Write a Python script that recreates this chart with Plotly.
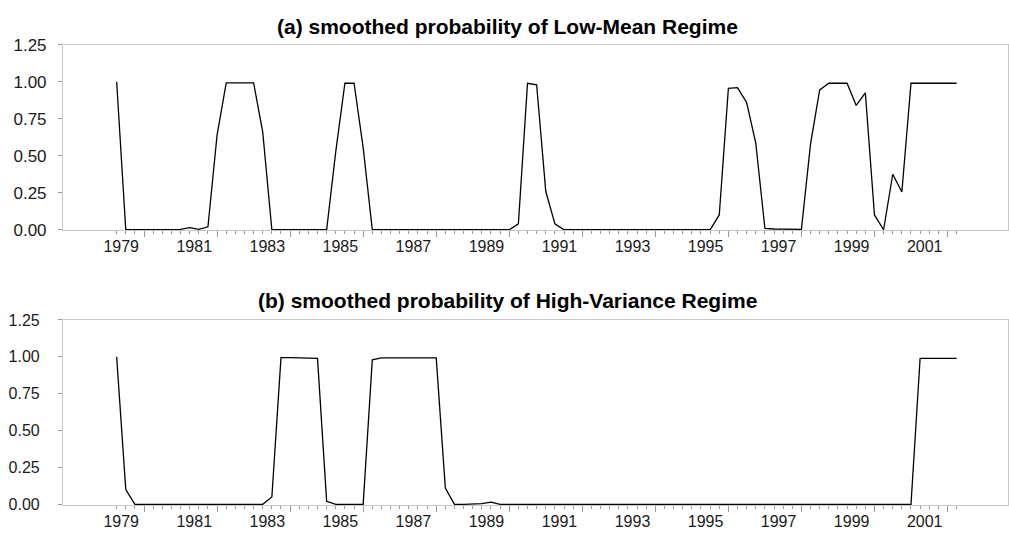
import plotly.graph_objects as go

# Quarterly sample, 1979Q1 .. 2002Q1
start_year = 1979
n_quarters = 93
quarters = [start_year + k / 4 for k in range(n_quarters)]

# Smoothed probability of the low-mean regime
low_mean = [
    1.00, 0.00, 0.00, 0.00, 0.00, 0.00, 0.00, 0.003, 0.015, 0.003,
    0.02, 0.64, 0.993, 0.993, 0.993, 0.993, 0.66, 0.00, 0.00, 0.00,
    0.00, 0.00, 0.00, 0.00, 0.53, 0.99, 0.99, 0.555, 0.00, 0.00,
    0.00, 0.00, 0.00, 0.002, 0.002, 0.00, 0.00, 0.002, 0.00, 0.00,
    0.00, 0.00, 0.00, 0.00, 0.04, 0.99, 0.98, 0.26, 0.04, 0.00,
    0.00, 0.00, 0.00, 0.00, 0.00, 0.002, 0.00, 0.00, 0.00, 0.00,
    0.00, 0.00, 0.00, 0.00, 0.00, 0.00, 0.10, 0.955, 0.96, 0.86,
    0.585, 0.01, 0.005, 0.003, 0.00, 0.003, 0.58, 0.945, 0.99, 0.99,
    0.99, 0.84, 0.925, 0.10, 0.00, 0.375, 0.255, 0.99, 0.99, 0.99,
    0.99, 0.99, 0.99,
]

# Smoothed probability of the high-variance regime
high_var = [
    1.00, 0.10, 0.00, 0.00, 0.00, 0.00, 0.00, 0.00, 0.00, 0.00,
    0.00, 0.00, 0.00, 0.00, 0.00, 0.00, 0.00, 0.05, 0.995, 0.995,
    0.995, 0.993, 0.99, 0.02, 0.00, 0.00, 0.00, 0.00, 0.98, 0.993,
    0.993, 0.993, 0.993, 0.993, 0.993, 0.993, 0.11, 0.00, 0.00, 0.00,
    0.005, 0.015, 0.00, 0.00, 0.00, 0.00, 0.00, 0.00, 0.00, 0.00,
    0.00, 0.00, 0.00, 0.00, 0.00, 0.00, 0.00, 0.00, 0.00, 0.00,
    0.00, 0.00, 0.00, 0.00, 0.00, 0.00, 0.00, 0.00, 0.00, 0.00,
    0.00, 0.00, 0.00, 0.00, 0.00, 0.00, 0.00, 0.00, 0.00, 0.00,
    0.00, 0.00, 0.00, 0.00, 0.00, 0.00, 0.00, 0.00, 0.99, 0.99,
    0.99, 0.99, 0.99,
]

year_labels = [str(y) for y in range(1979, 2002, 2)]
label_pos = [int(y) + 0.125 for y in year_labels]
long_ticks = [y + 0.75 for y in range(1979, 2002, 2)]
y_ticks = [0, 0.25, 0.5, 0.75, 1.0, 1.25]

titles = [
    "(a) smoothed probability of Low-Mean Regime",
    "(b) smoothed probability of High-Variance Regime",
]

FONT = "Liberation Sans, Arial, sans-serif"
GRID = "#c8c8c8"
TICK = "#9a9a9a"
XRANGE = [1977.53, 2003.406]
XDOM = [0.0624, 0.999]

fig = go.Figure()
fig.add_trace(go.Scatter(x=quarters, y=low_mean, mode="lines",
                         line=dict(color="black", width=1.3),
                         xaxis="x", yaxis="y", showlegend=False))
fig.add_trace(go.Scatter(x=quarters, y=high_var, mode="lines",
                         line=dict(color="black", width=1.3),
                         xaxis="x2", yaxis="y2", showlegend=False))
# carriers for the year-label axes
fig.add_trace(go.Scatter(x=[None], y=[None], xaxis="x3", yaxis="y",
                         showlegend=False, hoverinfo="skip"))
fig.add_trace(go.Scatter(x=[None], y=[None], xaxis="x4", yaxis="y2",
                         showlegend=False, hoverinfo="skip"))


def tick_axis(anchor):
    return dict(
        domain=XDOM, anchor=anchor, range=XRANGE,
        tickmode="array", tickvals=long_ticks, ticks="outside",
        ticklen=6, tickwidth=1, tickcolor=TICK, showticklabels=False,
        showline=True, linecolor=GRID, linewidth=1, mirror=True,
        showgrid=False, zeroline=False,
        minor=dict(tickmode="array", tickvals=quarters, ticks="outside",
                   ticklen=3, tickwidth=1, tickcolor=TICK, showgrid=False),
    )


def label_axis(over, anchor):
    return dict(
        overlaying=over, anchor=anchor, range=XRANGE,
        tickmode="array", tickvals=label_pos, ticktext=year_labels,
        ticks="", showline=False, showgrid=False, zeroline=False,
        tickfont=dict(family=FONT, size=16, color="#1a1a1a"),
        ticklabelstandoff=5,
    )


def y_axis(domain, size, standoff):
    return dict(
        domain=domain, range=[-0.005, 1.25],
        tickmode="array", tickvals=y_ticks, tickformat=".2f",
        ticks="outside", ticklen=4, tickcolor=TICK,
        showline=True, linecolor=GRID, linewidth=1, mirror=True,
        showgrid=False, zeroline=False,
        tickfont=dict(family=FONT, size=size, color="#1a1a1a"),
        ticklabelstandoff=standoff,
    )


fig.update_layout(
    width=1009, height=542,
    margin=dict(l=0, r=0, t=0, b=0),
    paper_bgcolor="white", plot_bgcolor="white",
    xaxis=tick_axis("y"),
    xaxis2=tick_axis("y2"),
    xaxis3=label_axis("x", "y"),
    xaxis4=label_axis("x2", "y2"),
    yaxis=y_axis([0.5773, 0.9317], 17, 8),
    yaxis2=y_axis([0.0533, 0.4065], 16, 15),
    annotations=[
        dict(text="<b>%s</b>" % titles[0], x=0.503, y=0.9668,
             xref="paper", yref="paper", xanchor="center", yanchor="middle",
             showarrow=False, font=dict(family=FONT, size=21, color="black")),
        dict(text="<b>%s</b>" % titles[1], x=0.503, y=0.4428,
             xref="paper", yref="paper", xanchor="center", yanchor="middle",
             showarrow=False, font=dict(family=FONT, size=21, color="black")),
    ],
)

fig.write_html("out.html")
